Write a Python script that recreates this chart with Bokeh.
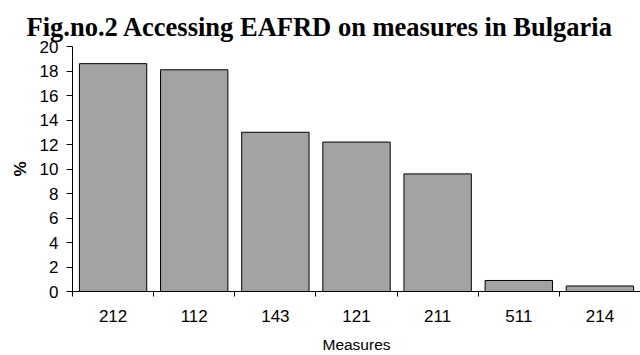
from bokeh.plotting import figure
from bokeh.models import Range1d, FixedTicker, SingleIntervalTicker, Title
from bokeh.embed import file_html
from bokeh.resources import INLINE

# Data
measures = ["212", "112", "143", "121", "211", "511", "214"]
shares = [18.6, 18.1, 13.0, 12.2, 9.6, 0.9, 0.45]
y_ticks_interval = 2
y_max = 20

centers = [i + 0.5 for i in range(len(measures))]
bounds = list(range(len(measures) + 1))

p = figure(width=640, height=355, output_backend="svg", toolbar_location=None,
           x_range=Range1d(0, len(measures)), y_range=Range1d(0, y_max),
           min_border_left=72, min_border_right=0, min_border_top=46, min_border_bottom=64)
p.outline_line_color = None
p.xgrid.grid_line_color = None
p.ygrid.grid_line_color = None
p.background_fill_color = "white"
p.border_fill_color = "white"

p.vbar(x=centers, top=shares, width=0.83, fill_color="#A3A3A3",
       line_color="black", line_width=1)

t = Title(text="Fig.no.2 Accessing EAFRD on measures in Bulgaria",
          text_font="Liberation Serif", text_font_size="26.5px",
          text_font_style="bold", text_color="black", align="left",
          offset=-46, standoff=10)
p.add_layout(t, "above")

xa = p.xaxis[0]
xa.ticker = FixedTicker(ticks=centers, minor_ticks=bounds)
xa.major_label_overrides = {c: m for c, m in zip(centers, measures)}
xa.major_tick_line_color = None
xa.minor_tick_line_color = "black"
xa.minor_tick_in = 0
xa.minor_tick_out = 5
xa.axis_line_color = "black"
xa.major_label_text_font = "Liberation Sans"
xa.major_label_text_font_size = "17px"
xa.major_label_text_color = "black"
xa.major_label_standoff = 12
xa.axis_label = "Measures"
xa.axis_label_text_font = "Liberation Sans"
xa.axis_label_text_font_size = "15.5px"
xa.axis_label_text_font_style = "normal"
xa.axis_label_text_color = "black"
xa.axis_label_standoff = 11

ya = p.yaxis[0]
ya.ticker = SingleIntervalTicker(interval=y_ticks_interval, num_minor_ticks=0)
ya.bounds = (0, y_max)
ya.major_tick_in = 0
ya.major_tick_out = 6
ya.minor_tick_line_color = None
ya.axis_line_color = "black"
ya.major_label_text_font = "Liberation Sans"
ya.major_label_text_font_size = "17px"
ya.major_label_text_color = "black"
ya.major_label_standoff = 8
ya.axis_label = "%"
ya.axis_label_text_font = "Liberation Sans"
ya.axis_label_text_font_size = "17px"
ya.axis_label_text_font_style = "bold"
ya.axis_label_text_color = "black"
ya.axis_label_standoff = 7

open("out.html", "w").write(file_html(p, INLINE))
